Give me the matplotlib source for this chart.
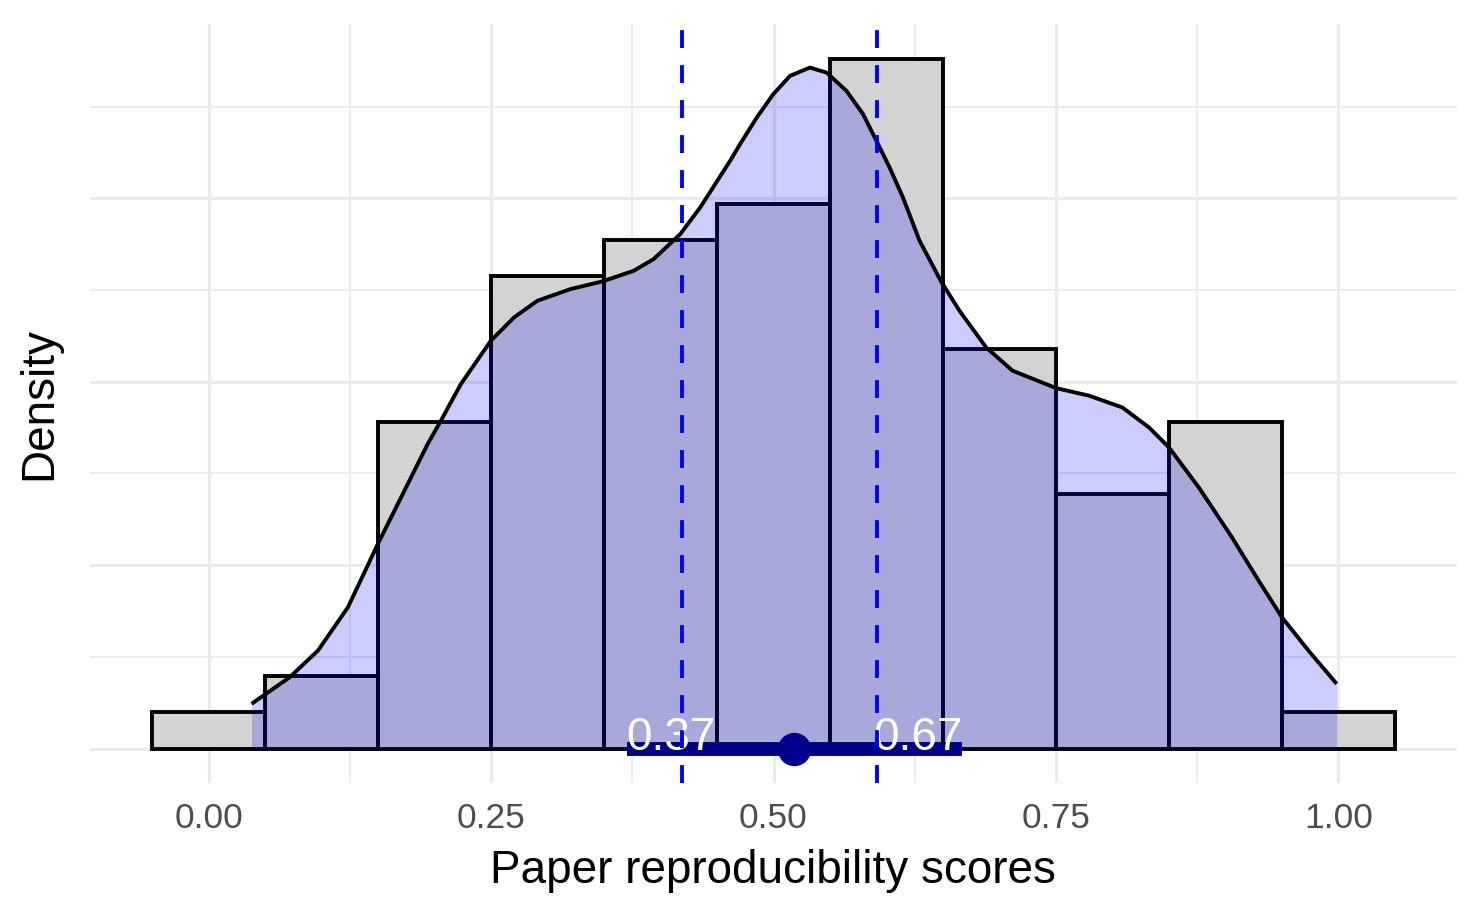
import numpy as np
import matplotlib.pyplot as plt

plt.rcParams['font.family'] = ['Liberation Sans', 'DejaVu Sans']

# histogram counts, bins of width 0.1 centred on 0.0 ... 1.0
bin_centers = [0.0, 0.1, 0.2, 0.3, 0.4, 0.5, 0.6, 0.7, 0.8, 0.9, 1.0]
counts = [1, 2, 9, 13, 14, 15, 19, 11, 7, 9, 1]
bin_width = 0.1

# density curve
dens_x = [0.0380, 0.0718, 0.0968, 0.1233, 0.1498, 0.1763, 0.1939, 0.2056, 0.2233,
          0.2498, 0.2703, 0.2910, 0.3204, 0.3484, 0.3763, 0.3939, 0.4175, 0.4351,
          0.4616, 0.4704, 0.4852, 0.4998, 0.5146, 0.5322, 0.5470, 0.5646, 0.5793,
          0.5911, 0.6028, 0.6146, 0.6293, 0.6485, 0.6646, 0.6882, 0.7116, 0.7499,
          0.7793, 0.8087, 0.8323, 0.8500, 0.8764, 0.9058, 0.9294, 0.9500, 0.9735,
          0.9985]
dens_y = [0.1218, 0.1943, 0.2670, 0.3850, 0.5578, 0.7213, 0.8302, 0.8937, 0.9937,
          1.1117, 1.1752, 1.2207, 1.2526, 1.2733, 1.3025, 1.3343, 1.4025, 1.4749,
          1.6022, 1.6477, 1.7202, 1.7839, 1.8338, 1.8564, 1.8428, 1.7929, 1.7294,
          1.6567, 1.5839, 1.5022, 1.3842, 1.2725, 1.1935, 1.0935, 1.0300, 0.9828,
          0.9619, 0.9300, 0.8755, 0.8210, 0.7120, 0.5757, 0.4578, 0.3578, 0.2670,
          0.1763]

# dashed reference lines
vlines = [0.419, 0.592]

# point estimate and interval
point_est = 0.518
ci_lo, ci_hi = 0.37, 0.667

n_total = sum(counts)
density = [c / (n_total * bin_width) for c in counts]

fig = plt.figure(figsize=(14.81, 9.15), dpi=100)
W, H = 1481, 915
left, right, top, bottom = 90, 1457, 24, 783
ax = fig.add_axes([left / W, 1 - bottom / H, (right - left) / W, (bottom - top) / H])

ax.bar(bin_centers, density, width=bin_width, color='#D3D3D3', edgecolor='black',
       linewidth=2.8, zorder=2)

ax.fill_between(dens_x, 0, dens_y, color='blue', alpha=0.2, linewidth=0, zorder=3)
ax.plot(dens_x, dens_y, color='black', linewidth=2.8, solid_joinstyle='round',
        solid_capstyle='butt', zorder=4)

ax.plot([ci_lo, ci_hi], [0, 0], color='#00008B', linewidth=10, solid_capstyle='butt', zorder=5)
ax.plot([point_est], [0], 'o', color='#00008B', markersize=23, zorder=6)
ax.text(ci_lo, -0.005, f'{ci_lo:.2f}', color='white', fontsize=33, ha='left', va='baseline', zorder=7)
ax.text(ci_hi, -0.005, f'{ci_hi:.2f}', color='white', fontsize=33, ha='right', va='baseline', zorder=7)

for v in vlines:
    ax.axvline(v, color='blue', linewidth=2.8, dashes=(4.6, 4.4), zorder=8)

ymax = max(density)
ax.set_xlim(-0.105, 1.105)
ax.set_ylim(-0.05 * ymax, 1.05 * ymax)

ax.set_xticks([0, 0.25, 0.5, 0.75, 1.0])
ax.set_xticklabels(['0.00', '0.25', '0.50', '0.75', '1.00'])
ax.set_xticks([0.125, 0.375, 0.625, 0.875], minor=True)
ax.set_yticks([0, 0.5, 1.0, 1.5])
ax.set_yticks([0.25, 0.75, 1.25, 1.75], minor=True)
ax.tick_params(axis='both', which='both', length=0)
ax.tick_params(axis='x', labelsize=25.5, labelcolor='#4D4D4D', pad=14)
ax.set_yticklabels([])

ax.grid(which='major', color='#EBEBEB', linewidth=2.3, zorder=0)
ax.grid(which='minor', color='#EBEBEB', linewidth=1.3, zorder=0)
ax.set_axisbelow(True)
for s in ax.spines.values():
    s.set_visible(False)

fig.text(773 / W, 1 - 883 / H, 'Paper reproducibility scores', fontsize=33,
         ha='center', va='baseline')
fig.text(39 / W, 1 - 403 / H, 'Density', fontsize=33, rotation=90,
         ha='center', va='center')

fig.savefig('out.png', dpi=100, facecolor='white')
